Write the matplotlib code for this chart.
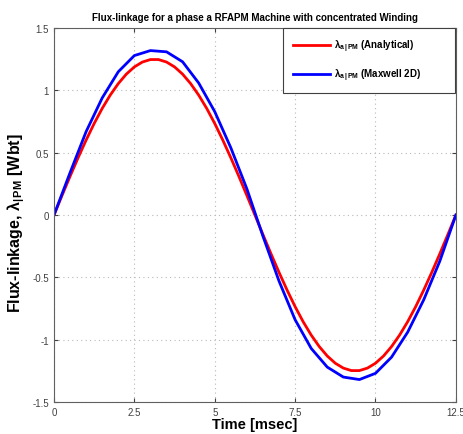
import numpy as np
import matplotlib
matplotlib.use('Agg')
import matplotlib.pyplot as plt

plt.rcParams['font.family'] = ['Liberation Sans', 'DejaVu Sans']
plt.rcParams['mathtext.fontset'] = 'custom'
plt.rcParams['mathtext.rm'] = 'Liberation Sans:bold'
plt.rcParams['mathtext.it'] = 'Liberation Sans:bold'

# analytical flux-linkage, read every 0.25 ms
t_an = [0, 0.25, 0.5, 0.75, 1.0, 1.25, 1.5, 1.75, 2.0, 2.25, 2.5, 2.75, 3.0,
        3.25, 3.5, 3.75, 4.0, 4.25, 4.5, 4.75, 5.0, 5.25, 5.5, 5.75, 6.0, 6.25,
        6.5, 6.75, 7.0, 7.25, 7.5, 7.75, 8.0, 8.25, 8.5, 8.75, 9.0, 9.25, 9.5,
        9.75, 10.0, 10.25, 10.5, 10.75, 11.0, 11.25, 11.5, 11.75, 12.0, 12.25, 12.5]
lam_an = [0, 0.157, 0.311, 0.46, 0.602, 0.735, 0.856, 0.963, 1.055, 1.131, 1.189,
          1.228, 1.248, 1.248, 1.228, 1.189, 1.131, 1.055, 0.963, 0.856, 0.735,
          0.602, 0.46, 0.311, 0.157, 0, -0.157, -0.311, -0.46, -0.602, -0.735,
          -0.856, -0.963, -1.055, -1.131, -1.189, -1.228, -1.248, -1.248, -1.228,
          -1.189, -1.131, -1.055, -0.963, -0.856, -0.735, -0.602, -0.46, -0.311,
          -0.157, 0]

# maxwell 2D, every 0.5 ms
t_fe = [0, 0.5, 1.0, 1.5, 2.0, 2.5, 3.0, 3.5, 4.0, 4.5, 5.0, 5.5, 6.0, 6.5, 7.0,
        7.5, 8.0, 8.5, 9.0, 9.5, 10.0, 10.5, 11.0, 11.5, 12.0, 12.5]
lam_fe = [0, 0.34, 0.67, 0.94, 1.15, 1.28, 1.32, 1.31, 1.23, 1.06, 0.83, 0.54,
          0.21, -0.17, -0.53, -0.84, -1.07, -1.22, -1.30, -1.32, -1.27, -1.14,
          -0.94, -0.68, -0.37, 0]

xticks = [0, 2.5, 5, 7.5, 10, 12.5]
xticklabels = ['0', '2.5', '5', '7.5', '10', '12.5']
yticks = [-1.5, -1, -0.5, 0, 0.5, 1, 1.5]
yticklabels = ['-1.5', '-1', '-0.5', '0', '0.5', '1', '1.5']

fig = plt.figure(figsize=(4.63, 4.35), dpi=100)
ax = fig.add_axes([0.1166, 0.0736, 0.868, 0.8594])

ax.plot(t_an, lam_an, color='r', lw=2, label=r'$\lambda_{a\,|\,PM}$ (Analytical)')
ax.plot(t_fe, lam_fe, color='b', lw=2, label=r'$\lambda_{a\,|\,PM}$ (Maxwell 2D)')

ax.set_xlim(0, 12.5)
ax.set_ylim(-1.5, 1.5)
ax.set_xticks(xticks)
ax.set_xticklabels(xticklabels)
ax.set_yticks(yticks)
ax.set_yticklabels(yticklabels)
ax.tick_params(direction='in', labelsize=7, length=3, top=True, right=True,
               colors='#404040')
ax.grid(True, linestyle=(0, (1, 3)), color='#b8b8b8', lw=0.8)
for s in ax.spines.values():
    s.set_color('#606060')

ax.set_title('Flux-linkage for a phase a RFAPM Machine with concentrated Winding',
             fontsize=7, fontweight='bold', pad=6)
ax.set_xlabel('Time [msec]', fontsize=10.5, fontweight='bold')
ax.set_ylabel(r'Flux-linkage, $\lambda_{|\,PM}$ [Wbt]', fontsize=11.5,
              fontweight='bold')
ax.xaxis.set_label_coords(0.5, -0.04)
ax.yaxis.set_label_coords(-0.066, 0.48)

leg = ax.legend(loc='upper left', bbox_to_anchor=(0.5697, 0.834, 0.428, 0.166),
                mode='expand', prop={'size': 7, 'weight': 'bold'},
                fancybox=False, framealpha=1, edgecolor='#404040',
                borderpad=1.0, labelspacing=1.3, handlelength=3.8,
                handletextpad=0.5, borderaxespad=0)
leg.get_frame().set_linewidth(0.8)

plt.savefig('out.png', dpi=100)
